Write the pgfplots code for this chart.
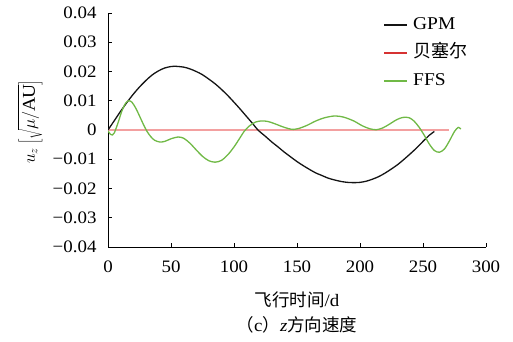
\documentclass[border=0pt]{standalone}
\usepackage{fontspec}
\setmainfont{Liberation Serif}[FakeStretch=1.08]
\newfontfamily\cjk{Noto Sans CJK SC}
\usepackage{pgfplots}
\pgfplotsset{compat=1.18}
\definecolor{gpm}{RGB}{20,20,20}
\definecolor{bezline}{RGB}{243,160,160}
\definecolor{bezleg}{RGB}{214,50,50}
\definecolor{ffs}{RGB}{112,185,70}
\begin{document}
\begin{tikzpicture}
\useasboundingbox (-108pt,-95pt) rectangle (405pt,247pt);
\begin{axis}[
  scale only axis, width=378pt, height=234pt,
  at={(0,0)}, anchor=south west,
  clip mode=individual,
  xmin=0, xmax=300, ymin=-0.04, ymax=0.04,
  scaled y ticks=false,
  axis lines=left, axis line style={-, line width=0.8pt},
  tick align=inside, major tick length=4pt,
  tick style={black, line width=0.8pt},
  xtick={0,50,...,300},
  ytick={-0.04,-0.03,-0.02,-0.01,0,0.01,0.02,0.03,0.04},
  yticklabels={−0.04,−0.03,−0.02,−0.01,0,0.01,0.02,0.03,0.04},
  /pgf/number format/assume math mode=true,
  ticklabel style={font=\fontsize{17.5pt}{20pt}\selectfont},
  yticklabel style={xshift=-8pt},
  xticklabel style={yshift=-10pt},
  xlabel={{\cjk 飞行时间}/d},
  xlabel style={font=\fontsize{17.5pt}{20pt}\selectfont, at={(axis description cs:0.5,-0.226)}, anchor=center},
  ylabel={$u_z\left[\sqrt{\mu/\mathrm{AU}}\right]$},
  ylabel style={font=\fontsize{18pt}{20pt}\selectfont, at={(axis description cs:-0.206,0.534)}, anchor=center},
  legend style={draw=none, fill=none, inner sep=0pt, at={(axis description cs:0.7275,0.983)}, anchor=north west,
    font=\fontsize{18pt}{21pt}\selectfont, row sep=12pt,
    nodes={inner sep=0pt, text height=12pt, text depth=4pt}},
  legend cell align=left,
  legend image code/.code={\draw[#1, line width=2pt] (0pt,0pt) -- (23pt,0pt);},
]
\addlegendimage{gpm}
\addlegendentry{\hspace{5pt}GPM}
\addlegendimage{bezleg}
\addlegendentry{\hspace{5pt}{\cjk 贝塞尔}}
\addlegendimage{ffs}
\addlegendentry{\hspace{5pt}FFS}

\addplot[bezline, line width=1.3pt, forget plot] coordinates {(0,0) (271,0)};

\addplot[gpm, line width=1.3pt, smooth, forget plot] coordinates {
(0,0) (5,0.0032) (10,0.0064) (15,0.0094) (20,0.0122) (25,0.0147) (30,0.0169)
(35,0.0188) (40,0.0202) (45,0.0212) (50,0.0217) (53,0.0218) (60,0.0215)
(65,0.0209) (70,0.0200) (75,0.0189) (80,0.0174) (85,0.0158) (90,0.0139)
(95,0.0118) (100,0.0095) (105,0.0071) (110,0.0046) (115,0.0021) (119,0)
(125,-0.0022) (130,-0.0041) (135,-0.0058) (140,-0.0076) (145,-0.0092)
(150,-0.0108) (155,-0.0122) (160,-0.0135) (165,-0.0147) (170,-0.0156)
(175,-0.0165) (180,-0.0171) (185,-0.0176) (190,-0.0179) (195,-0.0180)
(200,-0.0179) (205,-0.0175) (210,-0.0168) (215,-0.0159) (220,-0.0147)
(225,-0.0133) (230,-0.0118) (235,-0.0100) (240,-0.0081) (245,-0.0061)
(250,-0.0039) (255,-0.0018) (259,-0.0005)
};

\addplot[ffs, line width=1.3pt, smooth, forget plot] coordinates {
(0,-0.0003) (2,-0.0015) (3.5,-0.0017) (5,-0.0010) (8,0.0025) (11,0.0065)
(14,0.0092) (16.5,0.0100) (19,0.0095) (22,0.0075) (25,0.0048) (28,0.0020)
(31,-0.0005) (34,-0.0023) (37,-0.0035) (41,-0.0041) (45,-0.0039) (50,-0.0030)
(55.5,-0.0024) (60,-0.0028) (65,-0.0045) (70,-0.0068) (75,-0.0090) (80,-0.0105)
(85,-0.0110) (90,-0.0104) (95,-0.0085) (100,-0.0058) (105,-0.0025) (108,-0.0005)
(112,0.0013) (117,0.0027) (122,0.0031) (127,0.0029) (132,0.0022) (138,0.0012)
(143,0.0005) (147,0.0002) (152,0.0006) (158,0.0016) (165,0.0031) (172,0.0042)
(180,0.0048) (187,0.0044) (195,0.0031) (202,0.0014) (208,0.0004) (213,0.0001)
(218,0.0007) (223,0.0019) (229,0.0035) (234,0.0043) (239,0.0042) (243,0.0030)
(247,0.0009) (251,-0.0018) (255,-0.0048) (259,-0.0070) (263,-0.0076)
(267,-0.0065) (271,-0.0037) (275,-0.0005) (278,0.0009) (280,0.0003)
};

\node[font=\fontsize{17.5pt}{20pt}\selectfont, anchor=center] at (axis description cs:0.5,-0.333)
  {{\cjk （}c{\cjk ）}\textit{z}{\cjk 方向速度}};
\end{axis}
\end{tikzpicture}
\end{document}
